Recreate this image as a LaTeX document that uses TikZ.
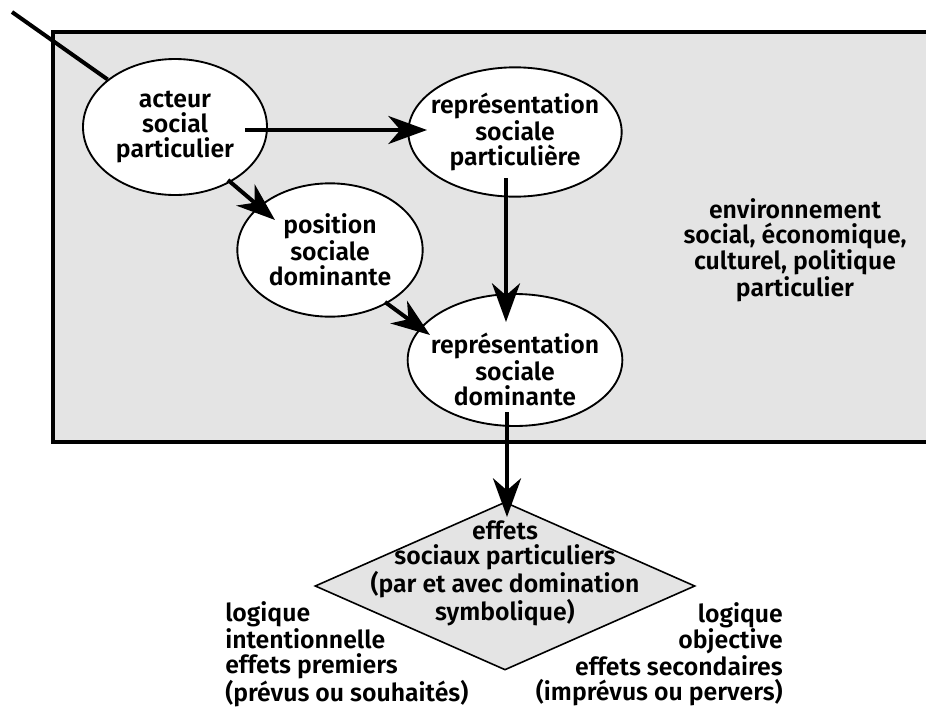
\documentclass[tikz,border=0pt]{standalone}
\usepackage{fontspec}
\setmainfont{Fira Sans}[BoldFont={Fira Sans SemiBold}]
\usetikzlibrary{positioning}
\usetikzlibrary{calc}
\usetikzlibrary{shapes.geometric}
\usetikzlibrary{arrows.meta}
\definecolor{fond}{HTML}{E4E4E4}
\tikzset{>={Stealth[length=29pt,width=21pt,inset=9pt]}}
\tikzset{bulle/.style={draw, ellipse, fill=white, line width=1.4pt, inner sep=0pt}}
\tikzset{losange/.style={draw, diamond, fill=fond, line width=1.2pt, inner sep=0pt}}
\tikzset{txt/.style={align=center, inner sep=0pt, font=\bfseries\fontsize{18.6}{18.75}\selectfont}}
\tikzset{fl/.style={->, line width=3pt}}

\begin{document}
\begin{tikzpicture}[x=0.75pt, y=-0.75pt]
\useasboundingbox (0,0) rectangle (926,711);

% environnement
\fill[fond] (53,32) rectangle (940,442);
\draw[line width=3pt] (940,32) -- (53,32) -- (53,442) -- (940,442);
\node[txt] (env) at (795,250) {environnement\\social, économique,\\culturel, politique\\particulier};

\node[bulle, minimum width=138pt, minimum height=102pt,
 label={[txt]center:{acteur\\social\\particulier}}] (acteur) at (175,127) {};
\node[bulle, minimum width=160pt, minimum height=97pt,
 label={[txt]center:{représentation\\sociale\\particulière}}] (reppart) at (515,132) {};
\node[bulle, minimum width=139pt, minimum height=100pt,
 label={[txt]center:{position\\sociale\\dominante}}] (position) at (330,250) {};
\node[bulle, minimum width=161pt, minimum height=99pt,
 label={[txt, yshift=-7pt]center:{représentation\\sociale\\dominante}}] (repdom) at (515,360) {};

\node[losange, minimum width=285pt, minimum height=126pt] (effets) at (505,586) {};
\node[txt] (efftxt) at ($(effets)+(0,-13)$) {effets\\sociaux particuliers\\(par et avec domination\\symbolique)};

\node[txt, anchor=west, align=left] (gauche) at (225,654) {logique\\intentionnelle\\effets premiers\\(prévus ou souhaités)};
\node[txt, anchor=east, align=right] (droite) at (783,654) {logique\\objective\\effets secondaires\\(imprévus ou pervers)};

\coordinate (coin) at (12,12);
\draw[line width=3pt] (coin) -- (acteur);

\draw[fl] ($(acteur)+(70,3)$) -- ($(reppart)+(-88,-2)$);
\draw[fl] ($(acteur)+(53,53)$) -- ($(position)+(-55,-30)$);
\draw[fl] ($(position)+(55,52)$) -- ($(repdom)+(-85,-25)$);
\draw[fl] ($(reppart)+(-9,46)$) -- ($(repdom)+(-9,-38)$);
\draw[fl] ($(repdom)+(-8,52)$) -- ($(effets)+(2,-69)$);
\end{tikzpicture}
\end{document}
